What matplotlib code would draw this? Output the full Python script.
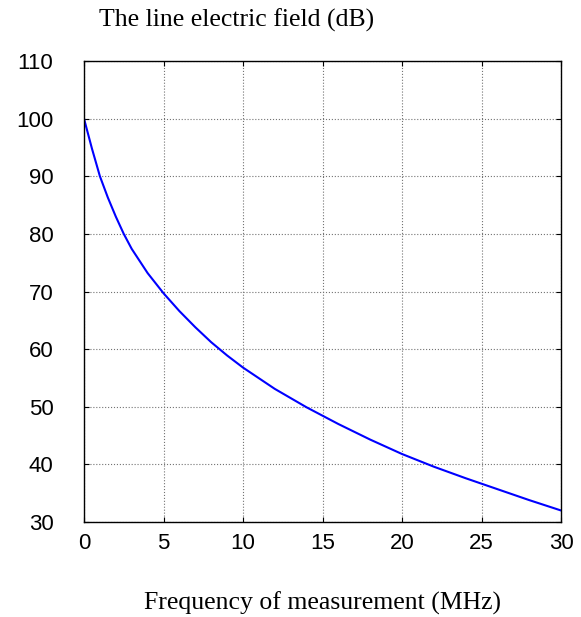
import matplotlib
matplotlib.use("Agg")
import matplotlib.pyplot as plt

# values
freq_mhz = [0, 0.5, 1, 1.5, 2, 2.5, 3, 4, 5, 6, 7, 8, 9, 10,
            12, 14, 16, 18, 20, 22, 24, 26, 28, 30]
field_db = [100, 94.8, 90, 86.3, 83.0, 80.0, 77.4, 73.2, 69.7, 66.6, 63.8, 61.2, 58.9, 56.8,
            53.1, 49.9, 47.0, 44.3, 41.8, 39.6, 37.6, 35.7, 33.8, 32.0]
x_ticks = [0, 5, 10, 15, 20, 25, 30]
y_ticks = [30, 40, 50, 60, 70, 80, 90, 100, 110]

W, H = 581, 617
fig = plt.figure(figsize=(W / 100, H / 100), dpi=100)
ax = fig.add_axes([84 / W, 1 - 522 / H, (561 - 84) / W, (522 - 61) / H])

ax.plot(freq_mhz, field_db, color="#0000ff", lw=1.5)

ax.set_xlim(0, 30)
ax.set_ylim(30, 110)
ax.set_xticks(x_ticks)
ax.set_yticks(y_ticks)
ax.grid(True, color="0.45", linestyle=":", linewidth=0.8)

for lab in ax.get_xticklabels() + ax.get_yticklabels():
    lab.set_family("Liberation Sans")
    lab.set_fontsize(16)
ax.tick_params(axis="both", direction="in", length=3.5, width=0.8,
               top=True, right=True)
ax.tick_params(axis="x", pad=8)
ax.tick_params(axis="y", pad=22)
for s in ax.spines.values():
    s.set_linewidth(1.0)

serif = "Liberation Serif"
fig.text(237 / W, 1 - 27 / H, "The line electric field (dB)", ha="center",
         va="baseline", fontsize=18.5, family=serif)
fig.text(322 / W, 1 - 610 / H, "Frequency of measurement (MHz)", ha="center",
         va="baseline", fontsize=18.5, family=serif)

fig.savefig("out.png", dpi=100)
